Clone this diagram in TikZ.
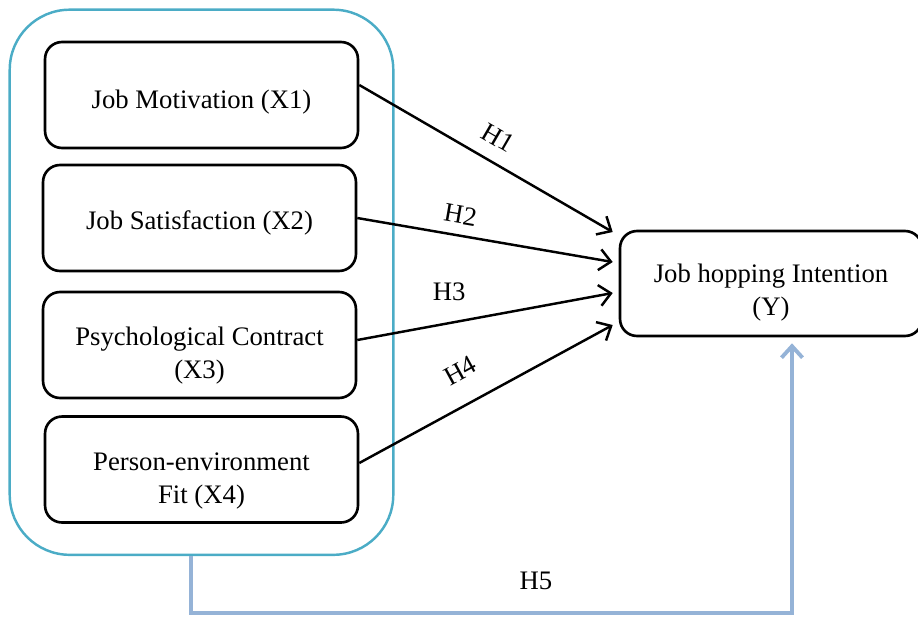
\documentclass[tikz,border=0pt]{standalone}
\usepackage{fontspec}
\setmainfont{Liberation Serif}
\usetikzlibrary{%
  calc,arrows.meta,positioning,%
  fit}
\tikzset {>={Straight Barb[length=2.3mm,width=4.2mm]}}
\definecolor{grpblue}{HTML}{4BACC6}
\definecolor{fbblue}{HTML}{95B3D7}
\newcommand{\lift}[1]{\rule{0pt}{#1}}

\begin{document}
\begin{tikzpicture}[x=0.02cm,y=-0.02cm,
  var/.style={draw,line width=1.5pt,rounded corners=0.34cm,
    minimum width=6.26cm,minimum height=2.12cm,align=center,
    font=\fontsize{15.2}{18.7}\selectfont},
  hyp/.style={->,line width=1.4pt},
  fb/.style={->,draw=fbblue,line width=2.2pt},
  lab/.style={inner sep=1pt,font=\fontsize{15.2}{18}\selectfont}]
\useasboundingbox (0,0) rectangle (918,616);
\node[var] (x1) at (201.5,95) {\lift{18.5pt}Job Motivation (X1)};
\node[var] (x2) at (199.5,218) {\lift{16pt}Job Satisfaction (X2)};
\node[var] (x3) at (199.5,345) {\lift{23pt}Psychological Contract\\(X3)};
\node[var] (x4) at (201.5,469.5) {\lift{23pt}Person-environment\\Fit (X4)};
\node[var,minimum width=6.04cm,minimum height=2.1cm] (y) at (771,283.5)
  {\lift{20.5pt}Job hopping Intention\\(Y)};
\node[draw=grpblue,line width=1.4pt,rounded corners=1.2cm,
  inner xsep=0.68cm,inner ysep=0.62cm,fit=(x1)(x4)] (grp) {};
% hypotheses
\draw[hyp] ([yshift=0.2cm]x1.east) -- ([xshift=-0.12cm,yshift=1.03cm]y.west)
  node[lab,sloped,above=7pt,pos=0.5] (h1) {H1};
\draw[hyp] (x2.east) -- ([xshift=-0.12cm,yshift=0.43cm]y.west)
  node[lab,sloped,above=5pt,pos=0.39] (h2) {H2};
\draw[hyp] ([yshift=0.1cm]x3.east) -- ([xshift=-0.12cm,yshift=-0.19cm]y.west)
  node[lab,above=11pt,pos=0.36] (h3) {H3};
\draw[hyp] ([yshift=0.13cm]x4.east) -- ([xshift=-0.12cm,yshift=-0.83cm]y.west)
  node[lab,sloped,above=12pt,pos=0.46] (h4) {H4};
\draw[fb] ([xshift=-0.21cm]grp.south) -- ++(0,57)
  -| ([xshift=0.42cm,yshift=-0.12cm]y.south)
  node[lab,above=11pt,pos=0.287] (h5) {H5};
\end{tikzpicture}
\end{document}
